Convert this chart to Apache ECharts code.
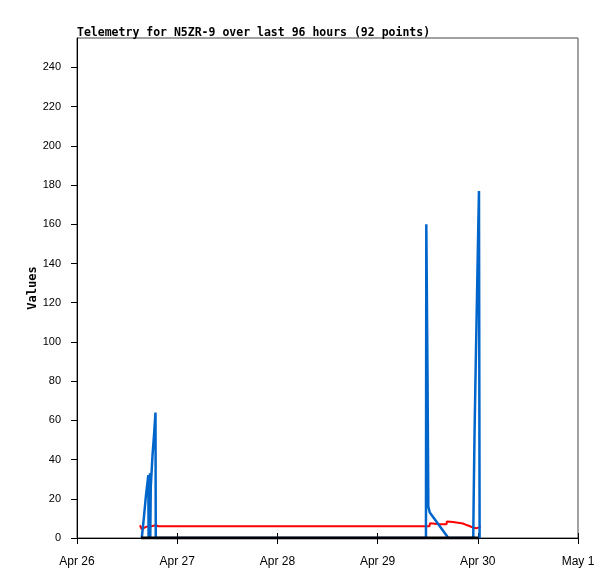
<!DOCTYPE html>
<html><head><meta charset="utf-8">
<script src="https://cdn.jsdelivr.net/npm/echarts@6/dist/echarts.min.js"></script>
<style>html,body{margin:0;padding:0;background:#fff}#c{width:615px;height:579px}</style>
</head><body><div id="c"></div>
<script>
// Tick labels for the time axis (one per day)
const xTickLabels = ['Apr 26', 'Apr 27', 'Apr 28', 'Apr 29', 'Apr 30', 'May 1'];
const startTime = '2024-04-26T00:00';

// Blue channel
const blueTimes = ['2024-04-26T15:31','2024-04-26T16:03','2024-04-26T16:32','2024-04-26T17:05','2024-04-26T17:09',
  '2024-04-26T17:29','2024-04-26T17:33','2024-04-26T17:40','2024-04-26T18:05','2024-04-26T18:30','2024-04-26T18:48','2024-04-26T18:52',
  '2024-04-29T11:35','2024-04-29T11:40','2024-04-29T11:58','2024-04-29T12:09','2024-04-29T12:30','2024-04-29T16:57',
  '2024-04-29T22:55','2024-04-29T23:00','2024-04-29T23:13','2024-04-29T23:30','2024-04-29T23:49','2024-04-30T00:07','2024-04-30T00:17','2024-04-30T00:26'];
const blueValues = [0,11,22,32,0,
  33,0,26,42,54,64,0,
  0,160,80,16,13,0,
  0,18,53,88,124,159,177,0];

// Red channel
const redTimes = ['2024-04-26T15:05','2024-04-26T15:29','2024-04-26T15:50','2024-04-26T16:40','2024-04-26T17:50','2024-04-26T18:10','2024-04-26T18:50','2024-04-26T19:30',
  '2024-04-29T12:25','2024-04-29T12:33','2024-04-29T14:57','2024-04-29T16:30','2024-04-29T16:37','2024-04-29T18:04','2024-04-29T18:20','2024-04-29T20:27',
  '2024-04-29T21:20','2024-04-29T22:08','2024-04-29T23:00','2024-04-29T23:40','2024-04-30T00:20','2024-04-30T00:39'];
const redValues = [6.5,4.5,5.5,5.8,6.0,7.0,6.5,6.0,
  6.0,7.5,7.0,7.0,8.4,8.2,7.6,7.4,
  6.6,6.0,5.2,5.0,5.4,6.0];

// Black channel
const blackTimes = ['2024-04-26T15:20','2024-04-30T00:05'];
const blackValues = [0,0];

const t0 = Date.parse(startTime + 'Z');
const toHours = t => (Date.parse(t + 'Z') - t0) / 3.6e6;
const pairs = (ts, vs) => ts.map((t, i) => [toHours(t), vs[i]]);

const mono = 'DejaVu Sans Mono';
const chart = echarts.init(document.getElementById('c'));
chart.setOption({
  animation: false,
  title: {
    text: 'Telemetry for N5ZR-9 over last 96 hours (92 points)',
    left: 72, top: 22,
    textStyle: { fontFamily: mono, fontWeight: 'bold', fontSize: 11.5, color: '#000' }
  },
  grid: { left: 77, right: 37, top: 38, bottom: 41, show: true, borderColor: '#444', borderWidth: 1, backgroundColor: 'transparent' },
  xAxis: [{
    type: 'value', min: 0, max: 120, interval: 24,
    axisLine: { lineStyle: { color: '#000', width: 1 } },
    axisTick: { show: true, length: 6, lineStyle: { color: '#000' } },
    axisLabel: { margin: 18, fontFamily: 'Liberation Sans', fontSize: 12, color: '#000',
      formatter: v => xTickLabels[Math.round(v / 24)] },
    splitLine: { show: false }
  }, {
    type: 'value', min: 0, max: 120, interval: 24, position: 'bottom',
    axisLine: { show: false },
    axisTick: { show: true, inside: true, length: 5, lineStyle: { color: '#000' } },
    axisLabel: { show: false }, splitLine: { show: false }
  }],
  yAxis: {
    type: 'value', min: 0, max: 255, interval: 20,
    name: 'Values', nameLocation: 'middle', nameGap: 38, nameMoveOverlap: false,
    nameTextStyle: { fontFamily: mono, fontWeight: 'bold', fontSize: 12, color: '#000' },
    axisLine: { show: true, lineStyle: { color: '#000', width: 1 } },
    axisTick: { show: true, length: 6, lineStyle: { color: '#000' } },
    axisLabel: { showMaxLabel: false, margin: 16, fontFamily: 'Liberation Sans', fontSize: 11, color: '#000' },
    splitLine: { show: false }
  },
  series: [
    { type: 'line', data: pairs(redTimes, redValues), showSymbol: false, lineStyle: { color: '#ff0000', width: 2 }, z: 2 },
    { type: 'line', data: pairs(blueTimes, blueValues), showSymbol: false, lineStyle: { color: '#0066cc', width: 2.5 }, z: 3 },
    { type: 'line', data: pairs(blackTimes, blackValues), showSymbol: false, lineStyle: { color: '#000000', width: 3 }, z: 4 }
  ]
});
</script></body></html>
